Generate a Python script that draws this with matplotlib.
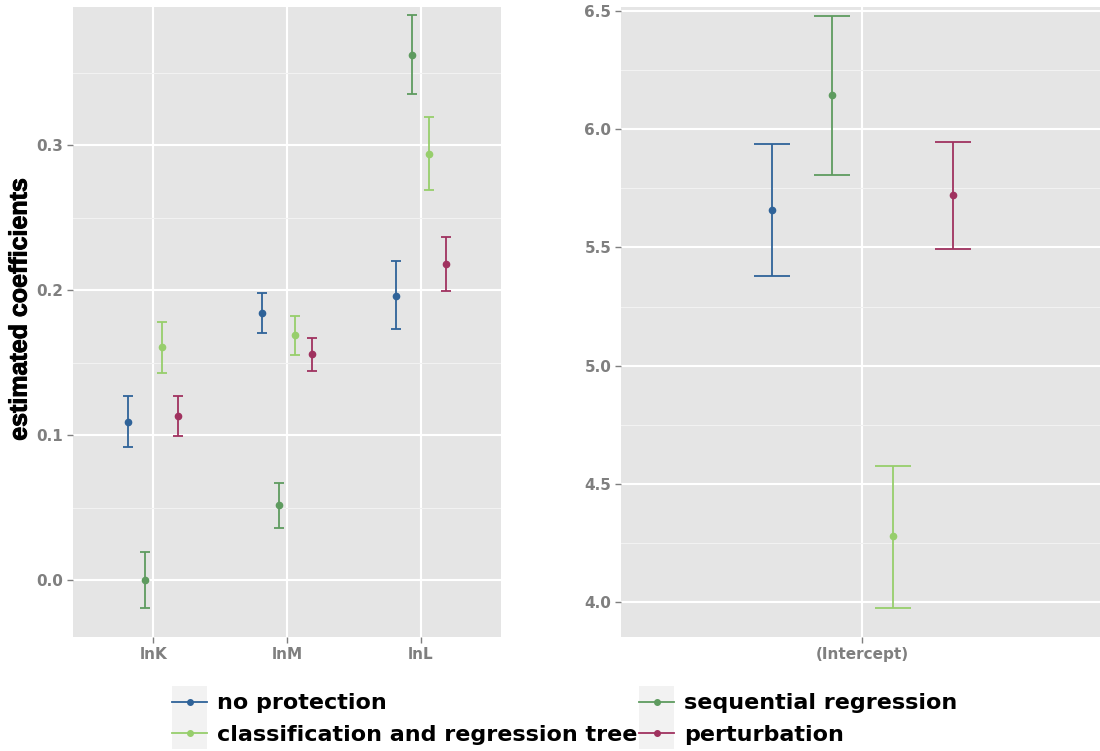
import numpy as np
import matplotlib.pyplot as plt
import matplotlib.patheffects as pe
from matplotlib.lines import Line2D
from matplotlib.patches import Rectangle
from matplotlib.legend_handler import HandlerLine2D
from matplotlib.ticker import MultipleLocator

# coefficient estimates with lower / upper bounds, one list per method
methods = ['no protection', 'sequential regression',
           'classification and regression tree', 'perturbation']
colors = ['#2F6399', '#5E9B5F', '#97CE6C', '#A0325F']

slopes = ['lnK', 'lnM', 'lnL']
est = [[0.109, 0.184, 0.196],
       [0.000, 0.0515, 0.362],
       [0.1605, 0.169, 0.294],
       [0.113, 0.1556, 0.2177]]
lo = [[0.0917, 0.1701, 0.1733],
      [-0.019, 0.0361, 0.335],
      [0.143, 0.1552, 0.269],
      [0.0991, 0.1444, 0.1993]]
hi = [[0.1267, 0.1982, 0.2198],
      [0.0193, 0.0669, 0.3894],
      [0.1777, 0.1823, 0.3193],
      [0.1271, 0.1669, 0.2366]]

icpt_est = [5.657, 6.144, 4.279, 5.721]
icpt_lo = [5.378, 5.807, 3.976, 5.494]
icpt_hi = [5.939, 6.480, 4.577, 5.946]

dodge_left = [-0.1875, -0.0625, 0.0625, 0.1875]
dodge_right = [-0.225, -0.075, 0.075, 0.225]

plt.rcParams['font.family'] = ['DejaVu Sans']

fig = plt.figure(figsize=(11, 7.51), dpi=100)
ax1 = fig.add_axes([0.0664, 0.1518, 0.389, 0.8389])
ax2 = fig.add_axes([0.5645, 0.1518, 0.4355, 0.8389])


def style(ax, minor):
    ax.set_facecolor('#E5E5E5')
    for s in ax.spines.values():
        s.set_visible(False)
    ax.yaxis.set_minor_locator(MultipleLocator(minor))
    ax.grid(which='major', color='white', lw=1.5)
    ax.grid(which='minor', axis='y', color='#F2F2F2', lw=0.8)
    ax.set_axisbelow(True)
    ax.tick_params(which='major', length=4, width=1, color='#7F7F7F',
                   labelcolor='#7F7F7F', labelsize=11, pad=3)
    ax.tick_params(which='minor', length=0)
    for lab in ax.get_xticklabels() + ax.get_yticklabels():
        lab.set_fontweight('bold')


x = np.arange(1, len(slopes) + 1)
for i in range(len(methods)):
    e = np.array(est[i])
    yerr = [e - np.array(lo[i]), np.array(hi[i]) - e]
    ax1.errorbar(x + dodge_left[i], e, yerr=yerr, fmt='o', color=colors[i],
                 ms=4.5, elinewidth=1.3, capsize=3.6, capthick=1.3)
ax1.set_xlim(0.4, 3.6)
ax1.set_ylim(-0.0393, 0.3952)
ax1.set_xticks(x)
ax1.set_xticklabels(slopes)
ax1.set_yticks([0.0, 0.1, 0.2, 0.3])
style(ax1, 0.05)
ylab = ax1.set_ylabel('estimated coefficients', fontsize=18,
                      fontweight='bold',
                      family=['Liberation Sans Narrow', 'Liberation Sans'])
# narrow face only ships in regular weight here, so thicken the strokes
ylab.set_path_effects([pe.withStroke(linewidth=0.7, foreground='black')])
ax1.yaxis.set_label_coords(-0.097, 0.52)

for i in range(len(methods)):
    yerr = [[icpt_est[i] - icpt_lo[i]], [icpt_hi[i] - icpt_est[i]]]
    ax2.errorbar([1 + dodge_right[i]], [icpt_est[i]], yerr=yerr, fmt='o',
                 color=colors[i], ms=4.5, elinewidth=1.3, capsize=13,
                 capthick=1.3)
ax2.set_xlim(0.4, 1.59)
ax2.set_ylim(3.852, 6.517)
ax2.set_xticks([1])
ax2.set_xticklabels(['(Intercept)'])
ax2.set_yticks([4.0, 4.5, 5.0, 5.5, 6.0, 6.5])
style(ax2, 0.25)


class KeyHandler(HandlerLine2D):
    # grey key box behind the line + point, ggplot style
    def create_artists(self, legend, orig_handle, xdescent, ydescent,
                       width, height, fontsize, trans):
        box = Rectangle((-xdescent, -ydescent - 6), width, height + 12,
                        facecolor='#F2F2F2', edgecolor='none',
                        transform=trans)
        arts = super().create_artists(legend, orig_handle, xdescent,
                                      ydescent, width, height, fontsize,
                                      trans)
        return [box] + arts


handles = [Line2D([], [], color=c, lw=1.3, marker='o', ms=4) for c in colors]
order = [0, 2, 1, 3]
fig.legend([handles[k] for k in order], [methods[k] for k in order],
           loc='center left', bbox_to_anchor=(0.1385, 0.0426), ncol=2,
           frameon=False, handlelength=1.55, handletextpad=0.45,
           columnspacing=0.1, labelspacing=0.5,
           prop={'weight': 'bold', 'size': 16},
           handler_map={Line2D: KeyHandler(numpoints=1)})

fig.savefig('out.png', dpi=100)
